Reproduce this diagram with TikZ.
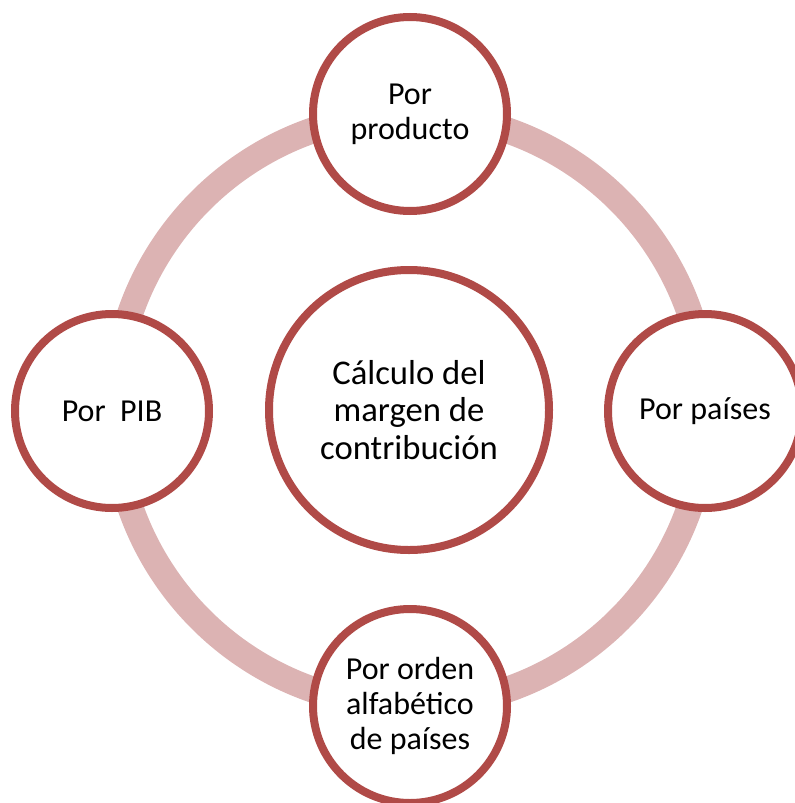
\documentclass[tikz,border=0pt]{standalone}
\usepackage{fontspec}
\setmainfont{Carlito}
\usepackage{tikz}
\usetikzlibrary{shadows}
\definecolor{ringpink}{RGB}{220,179,179}
\definecolor{rimred}{RGB}{176,74,71}
\tikzset{
    topic/.style={circle,draw=rimred,line width=6pt,fill=white,
        minimum size=145.5pt,inner sep=0pt,align=center,
        font=\fontsize{24}{26.5}\selectfont,
        drop shadow={shadow xshift=1.2pt,shadow yshift=-1.2pt,opacity=0.18}},
    hub/.style={topic,minimum size=210pt,font=\fontsize{26}{28.2}\selectfont}
}

\begin{document}
\begin{tikzpicture}[x=0.75pt,y=-0.75pt]
    \useasboundingbox (0,0) rectangle (795,803);
    \coordinate (ringc) at (410,410);
    \draw[ringpink,line width=19.5pt] (ringc) circle[radius=296];
    \node[hub] at (409,410) (calculo) {Cálculo del\\margen de\\contribución};
    \node[topic] at (410,114) (producto) {Por\\producto};
    \node[topic] at (705,411) (paises) {Por países};
    \node[topic] at (410,706) (orden) {Por orden\\alfabético\\de países};
    \node[topic] at (112,411) (pib) {Por\ \ PIB};
\end{tikzpicture}
\end{document}
